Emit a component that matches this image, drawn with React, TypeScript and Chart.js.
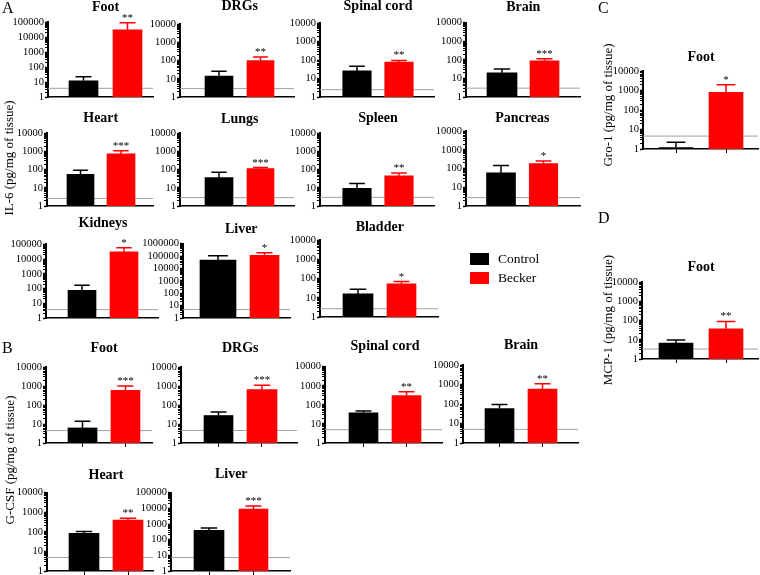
import React, { useEffect, useRef } from 'react';
import { Chart, registerables } from 'chart.js';

Chart.register(...registerables);

// ---------- data ----------
const groups = ['Control', 'Becker'];
const panelTitles = [
  'Foot', 'DRGs', 'Spinal cord', 'Brain', 'Heart', 'Lungs', 'Spleen', 'Pancreas', 'Kidneys', 'Liver', 'Bladder',
  'Foot', 'DRGs', 'Spinal cord', 'Brain', 'Heart', 'Liver',
  'Foot', 'Foot',
];
const controlMeans = [12, 14, 26, 20, 55, 37, 9.3, 58, 76, 48000, 16, 6.2, 28, 38, 59, 83, 390, 1.2, 6.8];
const controlUpper = [22, 26, 47, 32, 94, 73, 17.5, 145, 167, 105000, 28, 14, 43, 48, 93, 105, 550, 2.2, 9.8];
const beckerMeans = [30000, 100, 78, 89, 750, 116, 46, 185, 31000, 115000, 54, 590, 650, 310, 590, 400, 9000, 810, 37];
const beckerUpper = [90000, 160, 96, 113, 1100, 130, 66, 255, 58000, 190000, 71, 1000, 1090, 480, 1090, 500, 14000, 2000, 89];
const detectionLimits = [3.8, 2.9, 2.5, 3, 2.6, 2.9, 3, 2.8, 3.7, 4.8, 2.7, 4.5, 4.6, 5, 5, 4.9, 7.2, 4.6, 3.3];
const significance = ['**', '**', '**', '***', '***', '***', '**', '*', '*', '*', '*', '***', '***', '**', '**', '**', '***', '*', '**'];
const axisMax = [1e5, 1e4, 1e4, 1e4, 1e4, 1e4, 1e4, 1e4, 1e5, 1e6, 1e4, 1e4, 1e4, 1e4, 1e4, 1e4, 1e5, 1e4, 1e4];
const axisTitles = ['IL-6 (pg/mg of tissue)', 'G-CSF (pg/mg of tissue)', 'Gro-1 (pg/mg of tissue)', 'MCP-1 (pg/mg of tissue)'];
const panelLetters = ['A', 'B', 'C', 'D'];

// ---------- layout (pixels): left, top, right, bottom, ctrl centre, becker centre, ctrl width, becker width, title baseline, x ticks
const layout: [number, number, number, number, number, number, number, number, number, boolean][] = [
  [48, 22, 153, 97, 83.5, 127.5, 29, 29, 11, false],
  [180, 24.3, 294, 97, 219, 260.5, 28, 27, 10, false],
  [320, 23.3, 434, 96.7, 357, 399, 28.5, 28.5, 10, false],
  [466, 22.7, 580, 97.3, 502, 544.5, 30, 29, 11, false],
  [47, 133.3, 153, 206, 80.5, 121, 27, 28, 122, false],
  [180, 133.3, 294, 206, 219, 260.5, 28, 27, 123, false],
  [320, 133.3, 434, 206, 357, 399, 28.5, 28.5, 122, false],
  [466, 131, 580, 205.7, 501, 543.5, 29, 28.5, 122, false],
  [46, 244.3, 158, 317.7, 82, 124, 28, 28, 227, false],
  [183, 243.7, 290, 317.7, 218, 264.5, 36, 29, 233, false],
  [320, 240.3, 438, 317.3, 358, 401.5, 30, 29, 231, false],
  [46, 366.7, 152, 442.7, 82.5, 125.5, 29, 29, 351.7, true],
  [181, 366.7, 297, 442.7, 218.5, 262, 29, 30, 351.7, true],
  [325, 366.7, 442, 442.7, 363.5, 406.5, 29, 29, 350, true],
  [463, 365, 578, 442.7, 499.5, 542.5, 29, 29, 349, true],
  [47, 492.7, 153, 570.7, 84, 128, 30, 30, 479, true],
  [171, 492.7, 290, 570.7, 209, 253.5, 30, 29, 478, true],
  [643, 71, 758, 149.3, 676, 726, 34, 34, 61, true],
  [642, 281.7, 758, 358.3, 676, 726, 34, 34, 270.7, true],
];

const SERIF = "'Liberation Serif', 'Times New Roman', serif";
const Y_W = 46;
const X_H = 10;
const COLORS = ['#000000', '#ff0000'];

function Panel({ idx }: { idx: number }) {
  const ref = useRef<HTMLCanvasElement | null>(null);
  const [L, T, R, B, c0, c1, w0, w1, titleY, xTicks] = layout[idx];
  const canvasLeft = L - Y_W;
  const canvasTop = titleY - 13;
  const width = Math.round(R - canvasLeft + 2);
  const height = Math.round(B - canvasTop + X_H);
  const padTop = T - canvasTop;
  const span = c1 - c0;
  const xMin = -(c0 - L) / span;
  const xMax = 1 + (R - c1) / span;
  const yMax = axisMax[idx];

  useEffect(() => {
    if (!ref.current) return;
    const overlay = {
      id: 'overlay' + idx,
      beforeDatasetsDraw(chart: any) {
        const { ctx, chartArea, scales } = chart;
        const ty = scales.y.getPixelForValue(detectionLimits[idx]);
        ctx.save();
        ctx.strokeStyle = '#a0a0a0';
        ctx.lineWidth = 1;
        ctx.beginPath();
        ctx.moveTo(chartArea.left, ty);
        ctx.lineTo(chartArea.right, ty);
        ctx.stroke();
        ctx.restore();
      },
      afterDatasetsDraw(chart: any) {
        const { ctx, scales } = chart;
        const uppers = [controlUpper[idx], beckerUpper[idx]];
        ctx.save();
        let beckerTop = 0;
        let beckerX = 0;
        for (let d = 0; d < 2; d++) {
          const el = chart.getDatasetMeta(d).data[0];
          if (!el) continue;
          const top = scales.y.getPixelForValue(uppers[d]);
          const cap = el.width * 0.55;
          ctx.strokeStyle = COLORS[d];
          ctx.lineWidth = 1.5;
          ctx.beginPath();
          ctx.moveTo(el.x, el.y);
          ctx.lineTo(el.x, top);
          ctx.moveTo(el.x - cap / 2, top);
          ctx.lineTo(el.x + cap / 2, top);
          ctx.stroke();
          if (d === 1) {
            beckerTop = top;
            beckerX = el.x;
          }
        }
        ctx.fillStyle = '#000';
        ctx.font = `11px ${SERIF}`;
        ctx.textAlign = 'center';
        ctx.textBaseline = 'alphabetic';
        ctx.fillText(significance[idx], beckerX, beckerTop - 2);
        ctx.restore();
      },
      afterDraw(chart: any) {
        const { ctx, scales } = chart;
        ctx.save();
        ctx.fillStyle = '#000';
        ctx.font = `bold 14px ${SERIF}`;
        ctx.textAlign = 'center';
        ctx.textBaseline = 'alphabetic';
        ctx.fillText(panelTitles[idx], scales.x.getPixelForValue(0.5), titleY - canvasTop);
        ctx.restore();
      },
    };

    const chart = new Chart(ref.current, {
      type: 'bar',
      data: {
        datasets: [
          {
            label: groups[0],
            data: [{ x: 0, y: controlMeans[idx] }],
            backgroundColor: COLORS[0],
            barThickness: w0,
            grouped: false,
          } as any,
          {
            label: groups[1],
            data: [{ x: 1, y: beckerMeans[idx] }],
            backgroundColor: COLORS[1],
            barThickness: w1,
            grouped: false,
          } as any,
        ],
      },
      options: {
        responsive: false,
        animation: false,
        events: [],
        layout: { padding: { top: padTop, right: 2, bottom: 0, left: 0 } },
        plugins: {
          legend: { display: false },
          tooltip: { enabled: false },
          title: { display: false },
        },
        scales: {
          x: {
            type: 'linear',
            min: xMin,
            max: xMax,
            offset: false,
            afterBuildTicks: (s: any) => {
              s.ticks = [{ value: 0 }, { value: 1 }];
            },
            afterFit: (s: any) => {
              s.height = X_H;
            },
            ticks: { display: false },
            grid: {
              display: true,
              drawOnChartArea: false,
              drawTicks: xTicks,
              tickLength: 4,
              color: '#000',
              lineWidth: 1,
              offset: false,
            },
            border: { display: true, color: '#000', width: 1.5 },
          } as any,
          y: {
            type: 'logarithmic',
            min: 1,
            max: yMax,
            afterBuildTicks: (s: any) => {
              const ticks: any[] = [];
              for (let p = 1; p < yMax; p *= 10) {
                for (let m = 1; m < 10; m++) ticks.push({ value: m * p });
              }
              ticks.push({ value: yMax });
              s.ticks = ticks;
            },
            afterFit: (s: any) => {
              s.width = Y_W;
            },
            ticks: {
              autoSkip: false,
              color: '#000',
              padding: 1,
              font: { family: SERIF, size: 10.5 },
              callback: (v: any) => {
                const lg = Math.log10(Number(v));
                return Math.abs(lg - Math.round(lg)) < 1e-9 ? String(Math.round(Math.pow(10, Math.round(lg)))) : '';
              },
            },
            grid: {
              display: true,
              drawOnChartArea: false,
              drawTicks: true,
              tickLength: 3,
              color: '#000',
              tickWidth: (c: any) => {
                const v = c.tick ? c.tick.value : 1;
                const lg = Math.log10(v);
                return Math.abs(lg - Math.round(lg)) < 1e-9 ? 1.5 : 1;
              },
            },
            border: { display: true, color: '#000', width: 2 },
          } as any,
        },
      },
      plugins: [overlay],
    });
    return () => chart.destroy();
  }, [idx]);

  return (
    <canvas
      ref={ref}
      width={width}
      height={height}
      style={{ position: 'absolute', left: canvasLeft, top: canvasTop, width, height }}
    />
  );
}

const textBase: React.CSSProperties = {
  position: 'absolute',
  fontFamily: SERIF,
  color: '#000',
  whiteSpace: 'nowrap',
  lineHeight: 1,
};

function AxisTitle({ text, cx, cy }: { text: string; cx: number; cy: number }) {
  return (
    <div
      style={{
        ...textBase,
        left: cx,
        top: cy,
        fontSize: 13,
        transform: 'translate(-50%, -50%) rotate(-90deg)',
      }}
    >
      {text}
    </div>
  );
}

export default function App() {
  return (
    <div style={{ position: 'absolute', left: 0, top: 0, width: 760, height: 575, background: '#fff', overflow: 'hidden' }}>
      {panelTitles.map((_, i) => (
        <Panel key={i} idx={i} />
      ))}
      <div style={{ ...textBase, left: 2, top: 0, fontSize: 16 }}>{panelLetters[0]}</div>
      <div style={{ ...textBase, left: 2, top: 340, fontSize: 16 }}>{panelLetters[1]}</div>
      <div style={{ ...textBase, left: 598, top: 0, fontSize: 16 }}>{panelLetters[2]}</div>
      <div style={{ ...textBase, left: 598, top: 210, fontSize: 16 }}>{panelLetters[3]}</div>
      <AxisTitle text={axisTitles[0]} cx={8} cy={158} />
      <AxisTitle text={axisTitles[1]} cx={9} cy={460} />
      <AxisTitle text={axisTitles[2]} cx={607} cy={105} />
      <AxisTitle text={axisTitles[3]} cx={607} cy={320} />
      {/* legend */}
      <div style={{ position: 'absolute', left: 470, top: 253, width: 19, height: 11.5, background: COLORS[0] }} />
      <div style={{ position: 'absolute', left: 470, top: 272, width: 19, height: 11.5, background: COLORS[1] }} />
      <div style={{ ...textBase, left: 498, top: 251.5, fontSize: 13.5 }}>{groups[0]}</div>
      <div style={{ ...textBase, left: 498, top: 270.5, fontSize: 13.5 }}>{groups[1]}</div>
    </div>
  );
}
